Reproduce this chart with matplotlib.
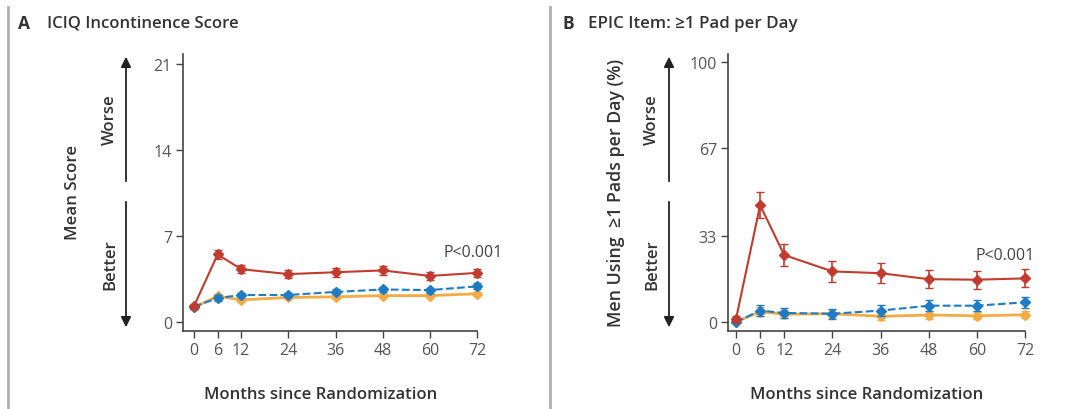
import matplotlib
matplotlib.use('Agg')
from matplotlib import pyplot as plt

plt.rcParams['font.family'] = ['Open Sans', 'DejaVu Sans']

months = [0, 6, 12, 24, 36, 48, 60, 72]

# panel A: ICIQ score
icq_red = [1.3, 5.5, 4.3, 3.9, 4.05, 4.2, 3.75, 4.0]
icq_red_err = [0.2, 0.4, 0.35, 0.35, 0.35, 0.35, 0.35, 0.35]
icq_blue = [1.25, 1.95, 2.2, 2.2, 2.45, 2.65, 2.6, 2.9]
icq_blue_err = [0.15, 0.25, 0.2, 0.2, 0.2, 0.2, 0.2, 0.25]
icq_orange = [1.2, 2.1, 1.8, 2.0, 2.05, 2.15, 2.15, 2.3]
icq_orange_err = [0.15, 0.2, 0.15, 0.15, 0.15, 0.15, 0.15, 0.15]

# panel B: >=1 pad per day (%)
pad_red = [1.2, 45.0, 25.8, 19.5, 18.8, 16.5, 16.3, 16.8]
pad_red_err = [1.0, 5.0, 4.3, 3.9, 3.8, 3.5, 3.5, 3.5]
pad_blue = [0.0, 4.4, 3.5, 3.2, 4.4, 6.3, 6.3, 7.6]
pad_blue_err = [0.5, 2.0, 2.0, 2.0, 2.0, 2.0, 2.0, 2.2]
pad_orange = [0.0, 4.0, 3.0, 3.2, 2.2, 2.7, 2.4, 2.8]
pad_orange_err = [0.5, 1.6, 1.5, 1.5, 1.4, 1.4, 1.4, 1.4]

red = '#c23b2f'
blue = '#1f7bc4'
orange = '#f2ab45'
txt = '#333333'
tick_col = '#555555'

fig = plt.figure(figsize=(10.72, 4.10), dpi=100)


def draw_panel(ax, r, re, b, be, o, oe, yticks, ylim, xlim, ptxt_xy):
    ax.errorbar(months, o, yerr=oe, color=orange, lw=2.0, marker='D', ms=5,
                capsize=3, elinewidth=1.2, clip_on=False, zorder=3)
    ax.errorbar(months, b, yerr=be, color=blue, lw=1.5, ls='--', marker='D',
                ms=5, capsize=3, elinewidth=1.2, clip_on=False, zorder=4)
    ax.errorbar(months, r, yerr=re, color=red, lw=1.5, marker='D', ms=5,
                capsize=3, elinewidth=1.2, clip_on=False, zorder=5)
    ax.set_xlim(*xlim)
    ax.set_ylim(*ylim)
    ax.set_xticks(months)
    ax.set_yticks(yticks)
    for s in ['top', 'right']:
        ax.spines[s].set_visible(False)
    for s in ['left', 'bottom']:
        ax.spines[s].set_color('#444444')
        ax.spines[s].set_linewidth(1.2)
    ax.tick_params(direction='out', length=5, width=1, color='#444444',
                   labelcolor=tick_col, labelsize=11.5, pad=3)
    ax.set_xlabel('Months since Randomization', fontsize=12,
                  fontweight='semibold', color=txt)
    ax.xaxis.set_label_coords(0.468, -0.2)
    ax.text(ptxt_xy[0], ptxt_xy[1], 'P<0.001', ha='right', va='center',
            fontsize=11.5, color='#444444')


ax_a = fig.add_axes([0.1707, 0.1902, 0.2743, 0.6756])
draw_panel(ax_a, icq_red, icq_red_err, icq_blue, icq_blue_err,
           icq_orange, icq_orange_err, [0, 7, 14, 21], (-0.73, 21.8),
           (-2.8, 72), (78.5, 5.7))

ax_b = fig.add_axes([0.6791, 0.1902, 0.2771, 0.6756])
draw_panel(ax_b, pad_red, pad_red_err, pad_blue, pad_blue_err,
           pad_orange, pad_orange_err, [0, 33, 67, 100], (-3.46, 103.2),
           (-2.0, 72), (74.5, 26))

# titles
fig.text(18 / 1072, 1 - 24 / 410, 'A', fontsize=12.5, fontweight='bold',
         color=txt, va='center')
fig.text(47 / 1072, 1 - 24 / 410, 'ICIQ Incontinence Score', fontsize=12,
         fontweight='semibold', color=txt, va='center')
fig.text(562 / 1072, 1 - 24 / 410, 'B', fontsize=12.5, fontweight='bold',
         color=txt, va='center')
fig.text(588 / 1072, 1 - 24 / 410, 'EPIC Item: \u22651 Pad per Day',
         fontsize=12.2, fontweight='semibold', color=txt, va='center')

# y labels
fig.text(73 / 1072, 1 - 192 / 410, 'Mean Score', rotation=90, fontsize=12.2,
         fontweight='semibold', color=txt, ha='center', va='center')
fig.text(616 / 1072, 1 - 193 / 410, 'Men Using  \u22651 Pads per Day (%)',
         rotation=90, fontsize=12.8, fontweight='semibold', color=txt,
         ha='center', va='center')

# worse / better arrows
for ax_x, lab_x in [(126, 110), (669, 652)]:
    fx = ax_x / 1072
    fig.add_artist(matplotlib.patches.FancyArrowPatch(
        (fx, 1 - 185 / 410), (fx, 1 - 55 / 410), transform=fig.transFigure,
        arrowstyle='-|>,head_width=3,head_length=6', color='#222222', lw=1.3))
    fig.add_artist(matplotlib.patches.FancyArrowPatch(
        (fx, 1 - 200 / 410), (fx, 1 - 331 / 410), transform=fig.transFigure,
        arrowstyle='-|>,head_width=3,head_length=6', color='#222222', lw=1.3))
    fig.text(lab_x / 1072, 1 - 120 / 410, 'Worse', rotation=90, fontsize=12,
             fontweight='semibold', color=txt, ha='center', va='center')
    fig.text(lab_x / 1072, 1 - 265 / 410, 'Better', rotation=90, fontsize=12,
             fontweight='semibold', color=txt, ha='center', va='center')

# panel borders
for bx in [8, 550]:
    fig.add_artist(matplotlib.lines.Line2D([bx / 1072, bx / 1072],
                                           [0, 1 - 8 / 410],
                                           transform=fig.transFigure,
                                           color='#b0b0b0', lw=2))

fig.savefig('out.png', dpi=100)
